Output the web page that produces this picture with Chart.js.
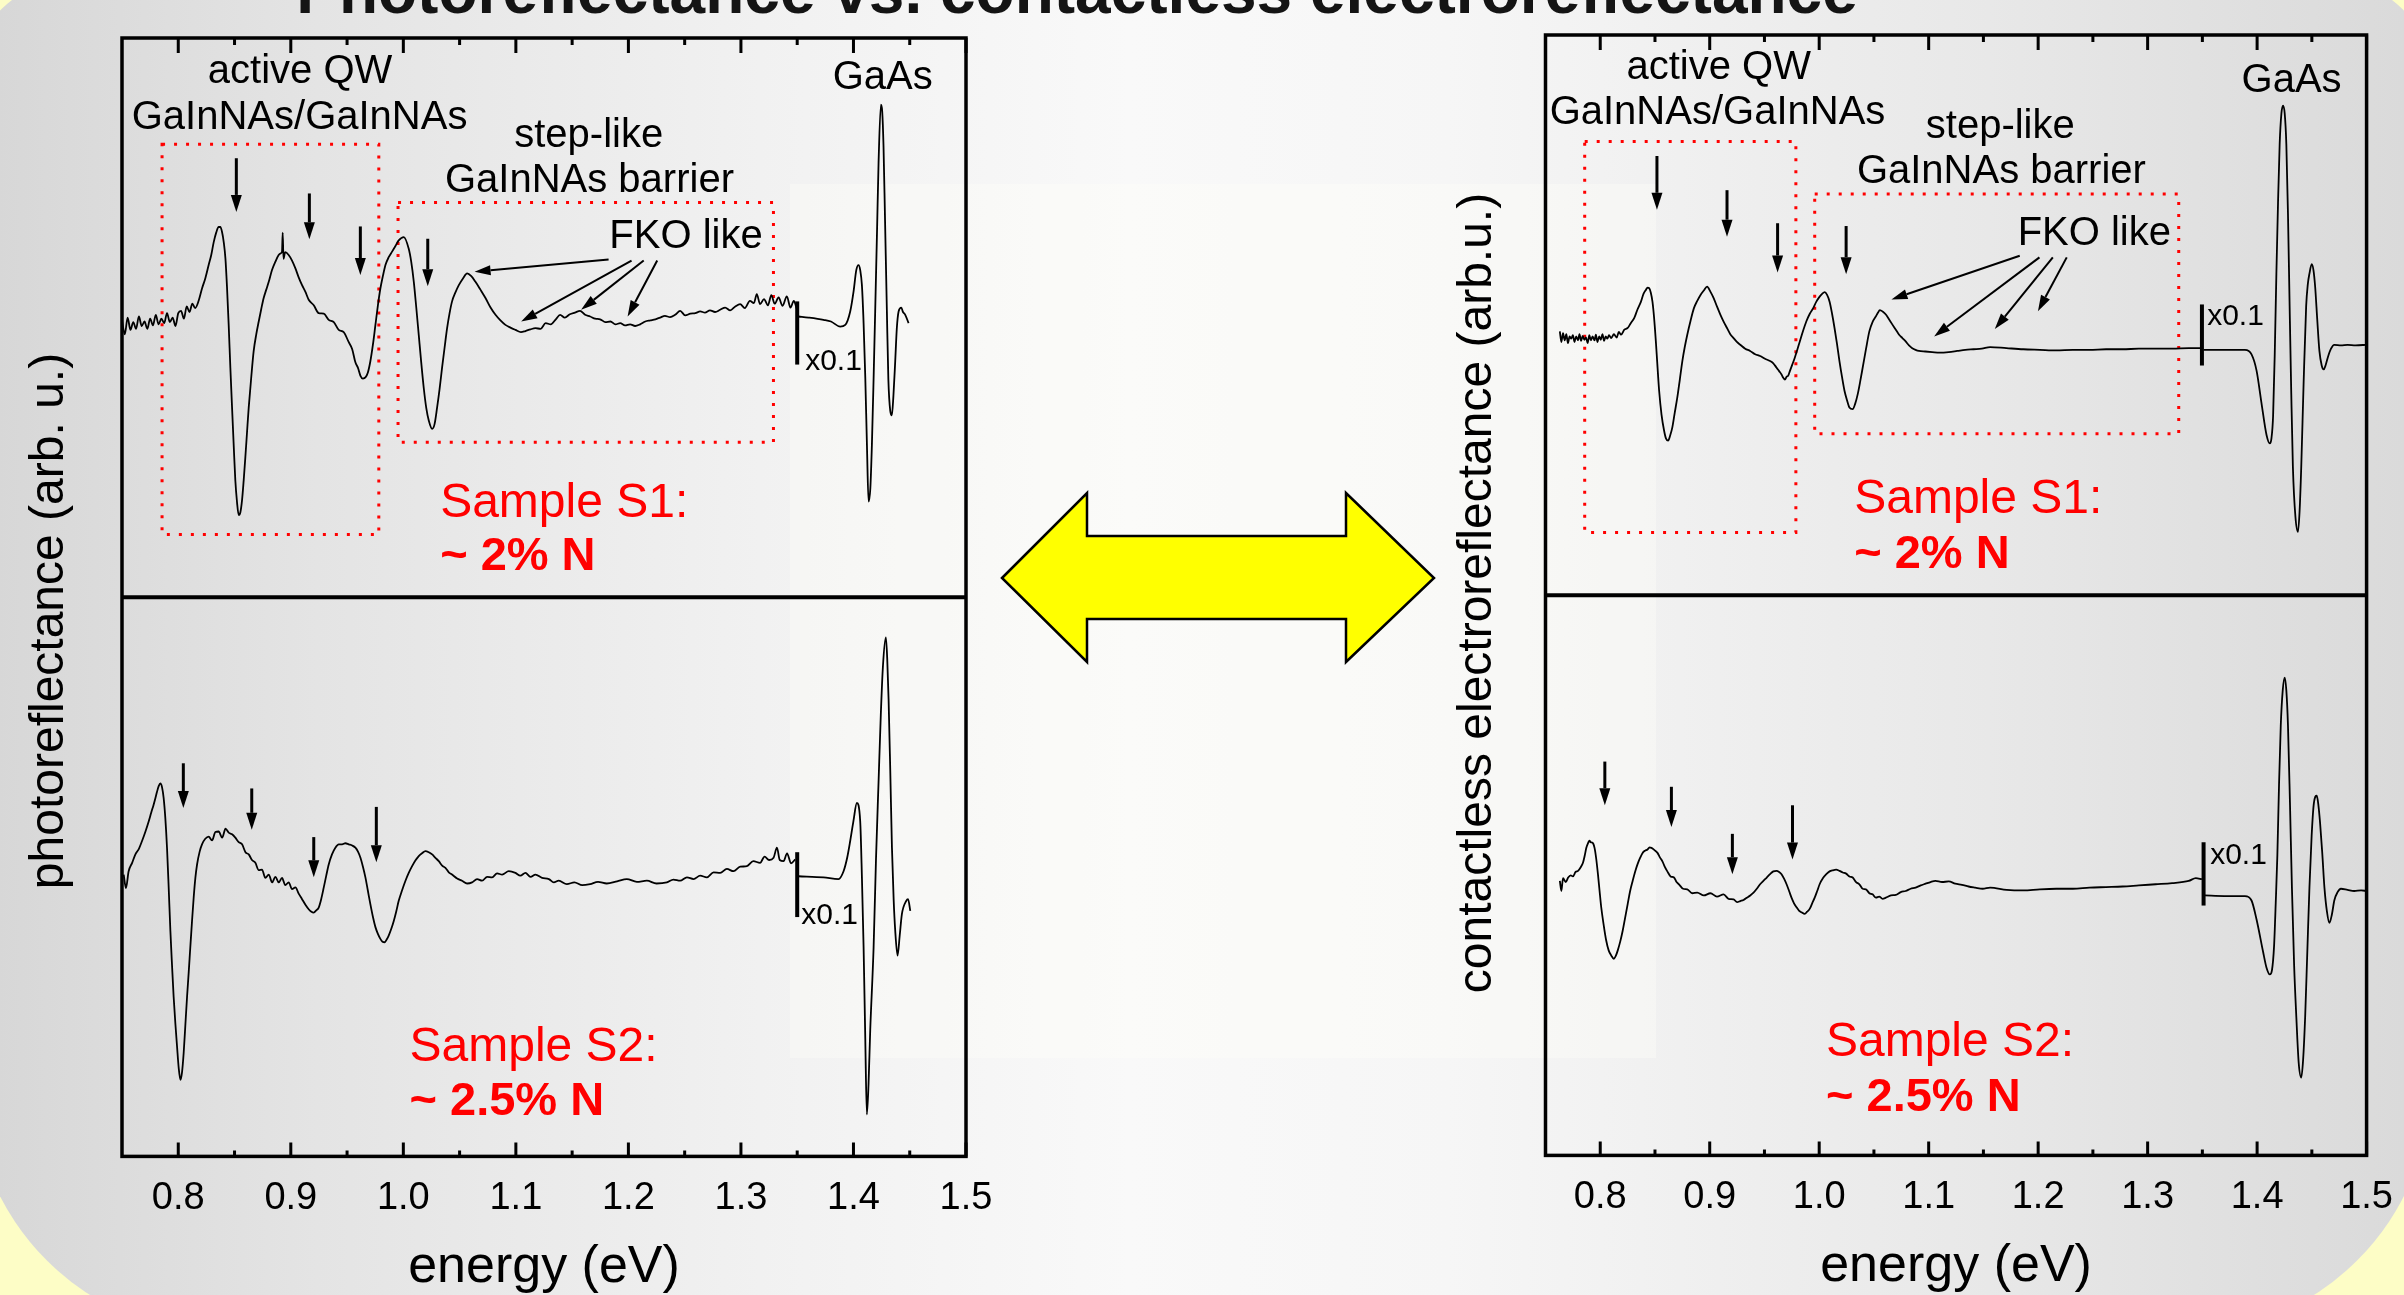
<!DOCTYPE html>
<html>
<head>
<meta charset="utf-8">
<script src="https://cdn.jsdelivr.net/npm/chart.js@4.4.1/dist/chart.umd.min.js"></script>
<style>
html, body { margin:0; padding:0; width:2404px; height:1295px; overflow:hidden; background:#fdfdc6; }
#bg { position:absolute; left:-28px; top:-20px; width:2460px; height:1355px;
  border-radius:100px 100px 255px 255px;
  background:linear-gradient(90deg,#d6d6d6 0%,#e4e4e4 14%,#f1f1f1 32%,#f9f9f9 47%,#f6f6f6 60%,#e8e8e8 82%,#d9d9d9 100%); }
#glow { position:absolute; left:790px; top:184px; width:866px; height:874px; background:rgba(255,255,248,0.35); }
canvas { position:absolute; left:0; top:0; }
</style>
</head>
<body>
<div id="bg"></div>
<div id="glow"></div>
<canvas id="left" width="2404" height="1295"></canvas>
<canvas id="right" width="2404" height="1295"></canvas>
<script>
// x axis
var tickValues = [0.8, 0.9, 1.0, 1.1, 1.2, 1.3, 1.4, 1.5];
var tickLabels = ["0.8", "0.9", "1.0", "1.1", "1.2", "1.3", "1.4", "1.5"];
var minorTicks = [0.85, 0.95, 1.05, 1.15, 1.25, 1.35, 1.45];

// photoreflectance, sample S1 (energy eV, signal arb.u.)
var prS1Main = [[0.750,4.95],[0.7525,4.70],[0.755,5.00],[0.7575,4.78],[0.760,4.92],[0.7625,4.80],[0.765,5.02],[0.7675,4.85],[0.770,4.93],[0.7725,4.80],[0.775,4.98],[0.7775,4.86],[0.780,5.05],[0.7825,4.88],[0.785,4.98],[0.7875,4.90],[0.790,5.08],[0.7925,4.92],[0.795,5.00],[0.7975,4.85],[0.800,5.08],[0.8025,5.12],[0.805,4.98],[0.8075,5.20],[0.810,5.10],[0.8125,5.25],[0.815,5.17],
[0.8181,5.30],[0.8211,5.52],[0.824,5.70],[0.827,5.94],[0.8293,6.12],[0.8315,6.35],[0.8337,6.52],[0.8359,6.62],[0.8374,6.62],[0.8389,6.53],[0.8404,6.35],[0.8419,6.06],[0.8433,5.55],[0.8448,4.87],[0.8463,4.10],[0.8478,3.39],[0.8493,2.70],[0.8507,2.09],[0.8522,1.70],[0.8537,1.47],[0.8552,1.52],[0.8567,1.74],[0.8581,2.08],[0.8596,2.50],[0.8611,2.95],[0.8626,3.39],[0.8648,3.92],[0.867,4.40],[0.8693,4.70],[0.8715,4.93],[0.8737,5.15],[0.8759,5.35],[0.8782,5.50],[0.8804,5.64],[0.8833,5.85],[0.8863,6.00],[0.8892,6.12],[0.8910,6.15],[0.8922,6.18],[0.8928,6.52],[0.8935,6.05],[0.8950,6.17],[0.8981,6.12],[0.9011,6.02],[0.9041,5.88],[0.907,5.72],[0.91,5.58],[0.913,5.46],[0.9159,5.32],[0.9204,5.22],[0.9248,5.08],[0.9293,5.07],[0.9337,4.96],[0.9382,4.92],[0.9426,4.78],[0.947,4.74],[0.9515,4.56],[0.9545,4.44],[0.9574,4.20],[0.9597,4.10],[0.9619,3.96],[0.9641,3.91],[0.9663,3.93],[0.9685,4.02],[0.9707,4.22],[0.973,4.52],[0.9752,4.87],[0.9774,5.22],[0.9796,5.52],[0.9819,5.75],[0.9841,5.94],[0.987,6.08],[0.99,6.18],[0.993,6.28],[0.9959,6.38],[1.0004,6.44],[1.0048,6.23],[1.007,6.00],[1.0093,5.64],[1.0115,5.18],[1.0137,4.69],[1.0159,4.20],[1.0181,3.75],[1.0204,3.38],[1.0226,3.16],[1.0256,3.01],[1.0278,3.10],[1.03,3.39],[1.0322,3.72],[1.0344,4.10],[1.0367,4.47],[1.0389,4.81],[1.0411,5.08],[1.0433,5.29],[1.0463,5.45],[1.0493,5.58],[1.053,5.70],[1.0567,5.79],[1.0604,5.74],[1.0641,5.64],[1.0685,5.50],[1.073,5.35],[1.0775,5.18],[1.0819,5.05],[1.0863,4.95],[1.0907,4.87],[1.0952,4.82],[1.0996,4.78],
[1.1045,4.74],[1.1085,4.76],[1.113,4.79],[1.1174,4.81],[1.122,4.80],[1.1265,4.90],[1.131,4.88],[1.1355,4.97],[1.1393,5.05],[1.1435,5.00],[1.148,5.06],[1.1525,5.09],[1.157,5.12],[1.1615,5.05],[1.166,5.02],[1.1705,4.98],[1.1749,4.97],[1.1795,4.92],[1.184,4.93],[1.1885,4.88],[1.1927,4.90],[1.197,4.86],[1.2015,4.88],[1.206,4.85],[1.2104,4.88],[1.215,4.93],[1.2195,4.95],[1.224,4.97],[1.2282,5.00],[1.2325,5.03],[1.237,5.01],[1.2415,5.05],[1.246,5.12],[1.2505,5.04],[1.255,5.07],[1.2595,5.08],[1.2638,5.11],[1.268,5.09],[1.2725,5.13],[1.277,5.10],[1.2816,5.14],[1.286,5.18],[1.2905,5.13],[1.295,5.20],[1.2993,5.24],[1.3035,5.17],[1.308,5.30],[1.3115,5.26],[1.3141,5.42],[1.317,5.24],[1.3205,5.33],[1.324,5.22],[1.327,5.40],[1.330,5.25],[1.3335,5.36],[1.337,5.21],[1.3408,5.38],[1.344,5.18],[1.347,5.30],[1.3497,5.15]];
var prS1GaAs = [[1.3512,5.02],[1.36,5.00],[1.3734,4.96],[1.38,4.93],[1.3882,4.84],[1.3927,4.87],[1.3971,5.11],[1.4001,5.47],[1.4025,5.85],[1.4045,5.94],[1.406,5.85],[1.4075,5.58],[1.409,4.90],[1.4105,3.93],[1.412,2.70],[1.4134,1.71],[1.415,1.95],[1.4164,2.74],[1.418,4.00],[1.4193,5.11],[1.421,6.60],[1.4223,7.77],[1.4244,8.81],[1.4255,8.70],[1.4267,8.07],[1.428,6.80],[1.4297,5.11],[1.431,3.90],[1.4327,3.33],[1.4341,3.25],[1.4355,3.60],[1.4371,4.22],[1.4385,4.80],[1.4401,5.11],[1.4425,5.18],[1.444,5.10],[1.446,5.05],[1.449,4.90]];

// photoreflectance, sample S2
var prS2Main = [[0.7515,5.04],[0.7535,4.80],[0.7559,5.10],[0.759,5.25],[0.7619,5.40],[0.765,5.50],[0.7678,5.64],[0.771,5.82],[0.7737,5.99],[0.776,6.15],[0.7781,6.29],[0.7796,6.40],[0.7811,6.52],[0.7826,6.62],[0.7841,6.67],[0.7856,6.60],[0.787,6.41],[0.7885,6.05],[0.79,5.52],[0.7915,4.80],[0.793,4.03],[0.7945,3.40],[0.7959,2.85],[0.7974,2.38],[0.7989,1.97],[0.8004,1.58],[0.8019,1.37],[0.8033,1.50],[0.8048,1.85],[0.8063,2.35],[0.8078,2.85],[0.8093,3.30],[0.8107,3.74],[0.8122,4.20],[0.8137,4.63],[0.8152,4.98],[0.8167,5.22],[0.819,5.45],[0.8211,5.58],[0.824,5.68],[0.827,5.72],[0.830,5.65],[0.833,5.80],[0.8359,5.81],[0.839,5.70],[0.842,5.86],[0.8448,5.79],[0.8478,5.76],[0.8507,5.70],[0.8537,5.62],[0.8567,5.58],[0.8597,5.44],[0.8626,5.40],[0.8655,5.30],[0.8685,5.25],[0.8715,5.12],[0.8744,5.13],[0.8774,4.98],[0.8804,5.04],[0.8834,4.90],[0.8863,5.00],[0.8893,4.90],[0.8922,4.98],[0.8951,4.85],[0.8981,4.90],[0.9011,4.78],[0.9041,4.81],[0.907,4.70],[0.91,4.60],[0.913,4.50],[0.9159,4.42],[0.918,4.38],[0.9204,4.36],[0.9226,4.40],[0.9248,4.45],[0.927,4.60],[0.9293,4.81],[0.9315,5.02],[0.9337,5.22],[0.9366,5.40],[0.9396,5.52],[0.9426,5.58],[0.9456,5.58],[0.9485,5.60],[0.9515,5.58],[0.9545,5.56],[0.9574,5.52],[0.9597,5.45],[0.9619,5.34],[0.9641,5.18],[0.9663,4.99],[0.9685,4.75],[0.9707,4.51],[0.973,4.28],[0.9752,4.10],[0.9774,3.98],[0.9796,3.89],[0.9815,3.84],[0.9835,3.83],[0.9852,3.88],[0.987,3.95],[0.9893,4.07],[0.9915,4.21],[0.9937,4.38],[0.9959,4.57],[0.9989,4.76],[1.0019,4.93],[1.0048,5.07],[1.0078,5.19],[1.0107,5.29],[1.0137,5.37],[1.0166,5.42],[1.0196,5.46],[1.0226,5.44],[1.0256,5.40],[1.0285,5.34],[1.0315,5.28],[1.0345,5.20],[1.0374,5.16],[1.0404,5.08],[1.0433,5.04],[1.0478,4.97],[1.0522,4.93],[1.0567,4.88],[1.0611,4.90],[1.0655,4.96],[1.07,4.93],[1.0745,5.00],[1.0789,4.99],[1.0833,5.06],[1.0878,5.04],[1.0937,5.10],[1.0996,5.07],[1.104,5.02],[1.1085,5.07],[1.113,5.00],[1.1174,5.04],[1.1233,4.98],[1.1293,4.96],[1.1337,4.90],[1.1381,4.93],[1.1453,4.87],[1.152,4.90],[1.159,4.85],[1.166,4.87],[1.173,4.91],[1.1808,4.88],[1.19,4.92],[1.1986,4.96],[1.2075,4.91],[1.2164,4.93],[1.225,4.88],[1.2342,4.90],[1.240,4.95],[1.246,4.93],[1.252,4.99],[1.2579,4.96],[1.2638,5.02],[1.2697,4.99],[1.2757,5.08],[1.2816,5.07],[1.2875,5.14],[1.2934,5.10],[1.2994,5.18],[1.3053,5.19],[1.311,5.28],[1.317,5.25],[1.321,5.36],[1.325,5.30],[1.329,5.34],[1.332,5.52],[1.3345,5.30],[1.3379,5.28],[1.341,5.42],[1.3445,5.24],[1.3482,5.31]];
var prS2GaAs = [[1.3512,5.01],[1.3734,4.99],[1.3867,4.96],[1.3912,5.10],[1.3945,5.35],[1.3971,5.64],[1.400,6.00],[1.403,6.32],[1.406,5.99],[1.4075,5.00],[1.409,3.74],[1.4105,2.10],[1.4119,0.75],[1.4134,1.30],[1.4149,2.26],[1.4179,3.74],[1.4200,5.30],[1.4223,6.70],[1.4243,7.90],[1.4262,8.77],[1.4288,9.28],[1.4300,8.90],[1.4312,8.18],[1.4327,6.90],[1.4342,5.52],[1.4357,4.60],[1.4371,4.04],[1.4392,3.59],[1.4411,3.95],[1.443,4.33],[1.4469,4.57],[1.4485,4.60],[1.4505,4.39]];

// contactless electroreflectance, sample S1
var cerS1Main = [[0.7631,4.71],[0.7645,4.52],[0.766,4.68],[0.7675,4.55],[0.769,4.66],[0.7705,4.50],[0.772,4.62],[0.7735,4.58],[0.775,4.64],[0.7765,4.52],[0.778,4.62],[0.7797,4.55],[0.781,4.66],[0.7825,4.54],[0.784,4.63],[0.7855,4.56],[0.787,4.60],[0.7885,4.50],[0.790,4.64],[0.7915,4.55],[0.793,4.62],[0.7948,4.55],[0.796,4.65],[0.7975,4.52],[0.799,4.62],[0.8005,4.56],[0.802,4.66],[0.8035,4.54],[0.805,4.62],[0.8065,4.58],[0.808,4.64],[0.81,4.59],[0.8125,4.66],[0.815,4.60],[0.817,4.70],[0.819,4.65],[0.822,4.74],[0.8251,4.77],[0.828,4.86],[0.8311,4.95],[0.834,5.10],[0.8372,5.24],[0.8395,5.38],[0.8417,5.45],[0.8432,5.49],[0.8447,5.48],[0.8462,5.40],[0.8477,5.24],[0.8492,4.95],[0.8508,4.53],[0.8523,4.08],[0.8538,3.65],[0.856,3.22],[0.8583,2.94],[0.860,2.80],[0.862,2.76],[0.864,2.86],[0.8659,3.00],[0.868,3.25],[0.8704,3.53],[0.8727,3.85],[0.875,4.18],[0.8772,4.43],[0.8795,4.65],[0.8825,4.90],[0.8855,5.12],[0.8885,5.25],[0.8916,5.36],[0.8946,5.44],[0.8976,5.51],[0.9006,5.42],[0.9037,5.30],[0.9067,5.15],[0.9097,5.01],[0.9128,4.88],[0.9158,4.77],[0.9188,4.66],[0.9218,4.59],[0.9248,4.52],[0.9279,4.47],[0.9324,4.40],[0.9369,4.36],[0.9415,4.30],[0.946,4.27],[0.9505,4.22],[0.9551,4.18],[0.9581,4.14],[0.9611,4.06],[0.9634,4.00],[0.9656,3.94],[0.9672,3.88],[0.9687,3.85],[0.9702,3.90],[0.9717,3.92],[0.9732,4.00],[0.9755,4.12],[0.9777,4.24],[0.980,4.38],[0.9823,4.53],[0.9853,4.72],[0.9883,4.89],[0.9913,5.02],[0.9944,5.12],[0.9974,5.24],[1.0004,5.33],[1.0027,5.38],[1.005,5.41],[1.0072,5.36],[1.0095,5.24],[1.0118,5.02],[1.014,4.77],[1.0163,4.48],[1.0185,4.18],[1.0208,3.90],[1.0231,3.65],[1.0254,3.48],[1.0276,3.35],[1.0306,3.32],[1.0329,3.42],[1.0352,3.59],[1.0375,3.82],[1.0397,4.06],[1.0428,4.40],[1.0458,4.71],[1.0488,4.88],[1.0518,4.98],[1.0536,5.04],[1.0554,5.09],[1.0582,5.06],[1.0609,5.01],[1.0639,4.92],[1.0669,4.83],[1.07,4.74],[1.073,4.65],[1.076,4.59],[1.079,4.53],[1.082,4.46],[1.085,4.41],[1.088,4.38],[1.0911,4.36],[1.097,4.35],[1.1032,4.34],[1.11,4.33],[1.1183,4.34],[1.126,4.36],[1.1334,4.38],[1.141,4.39],[1.1485,4.40],[1.1561,4.43],[1.171,4.41],[1.1864,4.39],[1.2015,4.38],[1.2166,4.37],[1.2317,4.38],[1.2468,4.38],[1.262,4.39],[1.2771,4.39],[1.292,4.40],[1.3073,4.40],[1.3224,4.40],[1.3375,4.41],[1.349,4.41]];
var cerS1GaAs = [[1.3511,4.38],[1.37,4.38],[1.3889,4.38],[1.3949,4.30],[1.3995,4.01],[1.404,3.43],[1.4086,2.86],[1.4116,2.71],[1.4131,2.80],[1.4146,3.20],[1.4161,4.30],[1.4176,5.74],[1.4191,7.00],[1.4206,8.05],[1.4222,8.60],[1.4237,8.74],[1.4252,8.60],[1.4267,8.05],[1.4282,6.80],[1.4297,5.16],[1.4312,3.60],[1.4327,2.28],[1.435,1.40],[1.4373,1.13],[1.4388,1.50],[1.4403,2.28],[1.4425,3.80],[1.4448,5.16],[1.4463,5.55],[1.4478,5.74],[1.4499,5.91],[1.4515,5.80],[1.453,5.51],[1.455,4.90],[1.4569,4.36],[1.459,4.10],[1.4608,4.03],[1.4625,4.10],[1.4645,4.24],[1.4675,4.40],[1.4705,4.47],[1.4766,4.46],[1.4826,4.47],[1.49,4.46],[1.5,4.47]];

// contactless electroreflectance, sample S2
var cerS2Main = [[0.7631,4.90],[0.7645,4.72],[0.766,4.95],[0.7685,4.88],[0.7707,4.96],[0.773,5.00],[0.775,4.98],[0.7775,5.06],[0.7797,5.08],[0.782,5.14],[0.7843,5.23],[0.7858,5.35],[0.7873,5.49],[0.789,5.58],[0.7902,5.62],[0.7912,5.59],[0.793,5.58],[0.7948,5.49],[0.7963,5.30],[0.7979,5.02],[0.7994,4.72],[0.8009,4.43],[0.8031,4.12],[0.8054,3.84],[0.8077,3.66],[0.81,3.57],[0.8124,3.51],[0.8142,3.56],[0.816,3.66],[0.8183,3.82],[0.8205,4.01],[0.8228,4.25],[0.8251,4.49],[0.8273,4.72],[0.8296,4.90],[0.8318,5.06],[0.8341,5.20],[0.8364,5.31],[0.8387,5.40],[0.841,5.44],[0.8432,5.46],[0.845,5.50],[0.8468,5.49],[0.8495,5.45],[0.8523,5.40],[0.8545,5.32],[0.8568,5.25],[0.859,5.15],[0.8613,5.07],[0.8643,4.98],[0.8674,4.96],[0.8697,4.88],[0.8719,4.84],[0.8757,4.76],[0.8795,4.75],[0.884,4.68],[0.8886,4.69],[0.8946,4.64],[0.9006,4.68],[0.9066,4.62],[0.9127,4.66],[0.9172,4.58],[0.9218,4.57],[0.925,4.52],[0.9279,4.54],[0.9309,4.56],[0.9339,4.60],[0.937,4.64],[0.94,4.69],[0.943,4.76],[0.946,4.84],[0.949,4.90],[0.9521,4.96],[0.9551,5.02],[0.9581,5.07],[0.9611,5.08],[0.9634,5.06],[0.9656,5.02],[0.9679,4.94],[0.9702,4.84],[0.9725,4.72],[0.9747,4.60],[0.977,4.50],[0.9793,4.43],[0.9815,4.37],[0.9838,4.34],[0.9868,4.31],[0.989,4.35],[0.9913,4.40],[0.9936,4.50],[0.9959,4.60],[0.9982,4.72],[1.0004,4.84],[1.0035,4.95],[1.0065,5.02],[1.0095,5.07],[1.0125,5.09],[1.0155,5.10],[1.0185,5.08],[1.0215,5.05],[1.0246,5.03],[1.0276,4.98],[1.0306,4.96],[1.0337,4.88],[1.0367,4.84],[1.0397,4.76],[1.0427,4.75],[1.0458,4.68],[1.0488,4.66],[1.0518,4.60],[1.0548,4.62],[1.0579,4.58],[1.0609,4.60],[1.0655,4.64],[1.07,4.65],[1.0745,4.70],[1.079,4.72],[1.0835,4.76],[1.0881,4.78],[1.0927,4.82],[1.0972,4.85],[1.1017,4.88],[1.1062,4.90],[1.1122,4.88],[1.1183,4.89],[1.1243,4.85],[1.1304,4.83],[1.1365,4.80],[1.1425,4.78],[1.1493,4.76],[1.1561,4.78],[1.1713,4.74],[1.1864,4.73],[1.2015,4.75],[1.2166,4.76],[1.2317,4.76],[1.2468,4.78],[1.262,4.79],[1.2771,4.80],[1.292,4.82],[1.3073,4.84],[1.3224,4.86],[1.3375,4.90],[1.3440,4.95],[1.3496,4.93]];
var cerS2GaAs = [[1.352,4.64],[1.37,4.63],[1.3889,4.63],[1.3949,4.55],[1.3995,4.21],[1.4055,3.63],[1.4086,3.35],[1.4116,3.23],[1.4135,3.30],[1.4155,3.74],[1.417,4.50],[1.4185,5.36],[1.42,6.60],[1.4216,7.67],[1.4234,8.30],[1.4252,8.53],[1.4267,8.30],[1.4282,7.67],[1.43,6.30],[1.4318,4.78],[1.4338,3.40],[1.4358,2.48],[1.438,1.65],[1.4403,1.39],[1.442,1.70],[1.4439,2.48],[1.4458,3.60],[1.4478,4.78],[1.4498,5.70],[1.4518,6.28],[1.4545,6.42],[1.456,6.25],[1.4575,5.94],[1.4595,5.40],[1.4615,4.78],[1.4638,4.35],[1.466,4.15],[1.4683,4.30],[1.4705,4.55],[1.4735,4.70],[1.4766,4.76],[1.4826,4.74],[1.4887,4.72],[1.495,4.73],[1.5,4.72]];

var FONT = '"Liberation Sans", Arial, Helvetica, sans-serif';

function pts(arr) {
	return arr.map(function(p){ return {x:p[0], y:p[1]}; });
}

function line(data, axis) {
	return {data:pts(data), yAxisID:axis, borderColor:"#000", borderWidth:1.8, pointRadius:0,
		cubicInterpolationMode:"monotone", fill:false};
}

function arrow(ctx, x0, y0, x1, y1, len, half, lw) {
	var a = Math.atan2(y1 - y0, x1 - x0);
	var bx = x1 - len*Math.cos(a), by = y1 - len*Math.sin(a);
	ctx.lineWidth = lw;
	ctx.beginPath(); ctx.moveTo(x0, y0); ctx.lineTo(bx, by); ctx.stroke();
	ctx.beginPath(); ctx.moveTo(x1, y1);
	ctx.lineTo(bx + half*Math.sin(a), by - half*Math.cos(a));
	ctx.lineTo(bx - half*Math.sin(a), by + half*Math.cos(a));
	ctx.closePath(); ctx.fill();
}

// annotations, in (energy, signal) of the panel they belong to
function decor(spec) {
	return {
		id:"decor",
		beforeDatasetsDraw: function(chart) {
			var ctx = chart.ctx, x = chart.scales.x;
			ctx.save();
			ctx.strokeStyle = "#ff0000"; ctx.lineWidth = 3; ctx.setLineDash([3, 9]);
			spec.boxes.forEach(function(b){
				var y = chart.scales[b[0]];
				var l = x.getPixelForValue(b[1]), r = x.getPixelForValue(b[2]);
				var t = y.getPixelForValue(b[4]), bt = y.getPixelForValue(b[3]);
				ctx.strokeRect(l, t, r - l, bt - t);
			});
			ctx.restore();
		},
		afterDraw: function(chart) {
			var ctx = chart.ctx, ca = chart.chartArea, x = chart.scales.x;
			ctx.save();
			ctx.strokeStyle = "#000"; ctx.fillStyle = "#000";
			// frame + divider
			ctx.lineWidth = 3.5;
			ctx.strokeRect(ca.left, ca.top, ca.right - ca.left, ca.bottom - ca.top);
			var mid = chart.scales.yTop.bottom;
			ctx.lineWidth = 4;
			ctx.beginPath(); ctx.moveTo(ca.left, mid); ctx.lineTo(ca.right, mid); ctx.stroke();
			// inward ticks
			ctx.lineWidth = 3;
			tickValues.forEach(function(v){
				var px = x.getPixelForValue(v);
				ctx.beginPath(); ctx.moveTo(px, ca.top); ctx.lineTo(px, ca.top + 15);
				ctx.moveTo(px, ca.bottom); ctx.lineTo(px, ca.bottom - 14); ctx.stroke();
			});
			minorTicks.forEach(function(v){
				var px = x.getPixelForValue(v);
				ctx.beginPath(); ctx.moveTo(px, ca.top); ctx.lineTo(px, ca.top + 7);
				ctx.moveTo(px, ca.bottom); ctx.lineTo(px, ca.bottom - 6); ctx.stroke();
			});
			// x0.1 bars
			ctx.lineWidth = 4;
			spec.bars.forEach(function(b){
				var y = chart.scales[b[0]], px = x.getPixelForValue(b[1]);
				ctx.beginPath(); ctx.moveTo(px, y.getPixelForValue(b[2])); ctx.lineTo(px, y.getPixelForValue(b[3])); ctx.stroke();
			});
			// feature arrows
			spec.down.forEach(function(a){
				var y = chart.scales[a[0]], px = x.getPixelForValue(a[1]);
				arrow(ctx, px, y.getPixelForValue(a[2]), px, y.getPixelForValue(a[3]), 17, 5.5, 3);
			});
			spec.fko.forEach(function(a){
				var y = chart.scales[a[0]];
				arrow(ctx, x.getPixelForValue(a[1]), y.getPixelForValue(a[2]), x.getPixelForValue(a[3]), y.getPixelForValue(a[4]), 16, 5, 2);
			});
			// labels
			spec.texts.forEach(function(t){
				var y = chart.scales[t[0]];
				ctx.font = t[5]; ctx.fillStyle = t[6] || "#000";
				ctx.textAlign = t[4]; ctx.textBaseline = "alphabetic";
				ctx.fillText(t[3], x.getPixelForValue(t[1]), y.getPixelForValue(t[2]));
			});
			// y title
			ctx.fillStyle = "#000";
			ctx.translate(ca.left - spec.yTitle[1], ca.top + spec.yTitle[2]);
			ctx.rotate(-Math.PI/2);
			ctx.font = "48px " + FONT; ctx.textAlign = "center";
			ctx.fillText(spec.yTitle[0], 0, 0);
			ctx.restore();
			if (spec.extra) spec.extra(ctx);
		}
	};
}

var F40 = "40px " + FONT, F30 = "30px " + FONT, FR = "48px " + FONT, FB = "bold 47px " + FONT;

var leftSpec = {
	yTitle:["photoreflectance (arb. u.)", 59, 583],
	boxes:[["yTop",0.7856,0.9782,1.12,8.10],["yTop",0.9953,1.3289,2.77,7.06]],
	bars:[["yTop",1.35,5.29,4.16],["yBottom",1.35,5.44,4.28]],
	down:[["yTop",0.8516,7.85,6.89],["yTop",0.9165,7.22,6.40],["yTop",0.9618,6.63,5.76],["yTop",1.0217,6.41,5.56],
		["yBottom",0.8045,7.03,6.23],["yBottom",0.8653,6.58,5.84],["yBottom",0.9204,5.71,4.99],["yBottom",0.976,6.25,5.26]],
	fko:[["yTop",1.1824,6.04,1.0633,5.82],["yTop",1.2028,6.02,1.1047,4.93],["yTop",1.2136,6.02,1.158,5.14],["yTop",1.2256,6.02,1.1993,5.02]],
	texts:[["yTop",0.9082,9.20,"active QW","center",F40],["yTop",0.9078,8.38,"GaInNAs/GaInNAs","center",F40],
		["yTop",1.1647,8.05,"step-like","center",F40],["yTop",1.1654,7.24,"GaInNAs barrier","center",F40],
		["yTop",1.2512,6.25,"FKO like","center",F40],["yTop",1.426,9.08,"GaAs","center",F40],
		["yTop",1.3571,4.07,"x0.1","left",F30],["yBottom",1.3536,4.16,"x0.1","left",F30],
		["yTop",1.0327,1.43,"Sample S1:","left",FR,"#ff0000"],["yTop",1.0327,0.48,"~ 2% N","left",FB,"#ff0000"],
		["yBottom",1.0055,1.71,"Sample S2:","left",FR,"#ff0000"],["yBottom",1.0055,0.74,"~ 2.5% N","left",FB,"#ff0000"]],
	extra:function(ctx){
		ctx.save();
		ctx.font = "bold 64px " + FONT; ctx.fillStyle = "#141414"; ctx.textAlign = "center";
		ctx.fillText("Photoreflectance vs. contactless electroreflectance", 1077, 13);
		ctx.beginPath();
		[[1002,578],[1087,493],[1087,536],[1346,536],[1346,493],[1434,578],[1346,662],[1346,619],[1087,619],[1087,662]].forEach(function(p, i){
			if (i) ctx.lineTo(p[0], p[1]); else ctx.moveTo(p[0], p[1]);
		});
		ctx.closePath();
		ctx.fillStyle = "#ffff00"; ctx.fill();
		ctx.lineWidth = 2.5; ctx.strokeStyle = "#000"; ctx.stroke();
		ctx.restore();
	}
};

var rightSpec = {
	yTitle:["contactless electroreflectance (arb.u.)", 54.5, 558],
	boxes:[["yTop",0.7858,0.9787,1.12,8.10],["yTop",0.9959,1.3284,2.88,7.16]],
	bars:[["yTop",1.3496,5.19,4.10],["yBottom",1.3511,5.59,4.46]],
	down:[["yTop",0.8518,7.84,6.88],["yTop",0.9158,7.23,6.40],["yTop",0.962,6.64,5.76],["yTop",1.0246,6.59,5.73],
		["yBottom",0.8042,7.03,6.25],["yBottom",0.865,6.58,5.86],["yBottom",0.9207,5.74,5.02],["yBottom",0.9756,6.25,5.28]],
	fko:[["yTop",1.1832,6.06,1.066,5.28],["yTop",1.2012,6.03,1.105,4.62],["yTop",1.2134,6.03,1.1604,4.75],["yTop",1.2261,6.03,1.1998,5.07]],
	texts:[["yTop",0.9082,9.22,"active QW","center",F40],["yTop",0.9071,8.42,"GaInNAs/GaInNAs","center",F40],
		["yTop",1.1654,8.16,"step-like","center",F40],["yTop",1.1664,7.36,"GaInNAs barrier","center",F40],
		["yTop",1.2513,6.26,"FKO like","center",F40],["yTop",1.4315,8.99,"GaAs","center",F40],
		["yTop",1.3544,4.82,"x0.1","left",F30],["yBottom",1.3571,5.20,"x0.1","left",F30],
		["yTop",1.032,1.47,"Sample S1:","left",FR,"#ff0000"],["yTop",1.032,0.49,"~ 2% N","left",FB,"#ff0000"],
		["yBottom",1.0062,1.77,"Sample S2:","left",FR,"#ff0000"],["yBottom",1.0062,0.80,"~ 2.5% N","left",FB,"#ff0000"]]
};

function makeChart(id, sets, pad, spec) {
	return new Chart(document.getElementById(id), {
		type:"line",
		data:{datasets:sets},
		options:{
			responsive:false, animation:false, devicePixelRatio:1,
			layout:{padding:pad},
			plugins:{legend:{display:false}, tooltip:{enabled:false}},
			scales:{
				x:{type:"linear", min:0.75, max:1.5, position:"bottom",
					grid:{display:false}, border:{display:false},
					afterBuildTicks:function(s){ s.ticks = tickValues.map(function(v){ return {value:v}; }); },
					ticks:{autoSkip:false, maxRotation:0, padding:11, color:"#000",
						font:{family:FONT, size:38},
						callback:function(v, i){ return tickLabels[i]; }},
					title:{display:true, text:"energy (eV)", color:"#000",
						font:{family:FONT, size:52, lineHeight:1}, padding:{top:10, bottom:0}}},
				yBottom:{type:"linear", display:false, min:0, max:10, position:"left", stack:"panels", stackWeight:1},
				yTop:{type:"linear", display:false, min:0, max:10, position:"left", stack:"panels", stackWeight:1}
			}
		},
		plugins:[decor(spec)]
	});
}

makeChart("left", [line(prS1Main,"yTop"), line(prS1GaAs,"yTop"), line(prS2Main,"yBottom"), line(prS2GaAs,"yBottom")],
	{left:122, right:1438, top:38, bottom:1}, leftSpec);
makeChart("right", [line(cerS1Main,"yTop"), line(cerS1GaAs,"yTop"), line(cerS2Main,"yBottom"), line(cerS2GaAs,"yBottom")],
	{left:1545.5, right:31.5, top:35, bottom:2}, rightSpec);
</script>
</body>
</html>
